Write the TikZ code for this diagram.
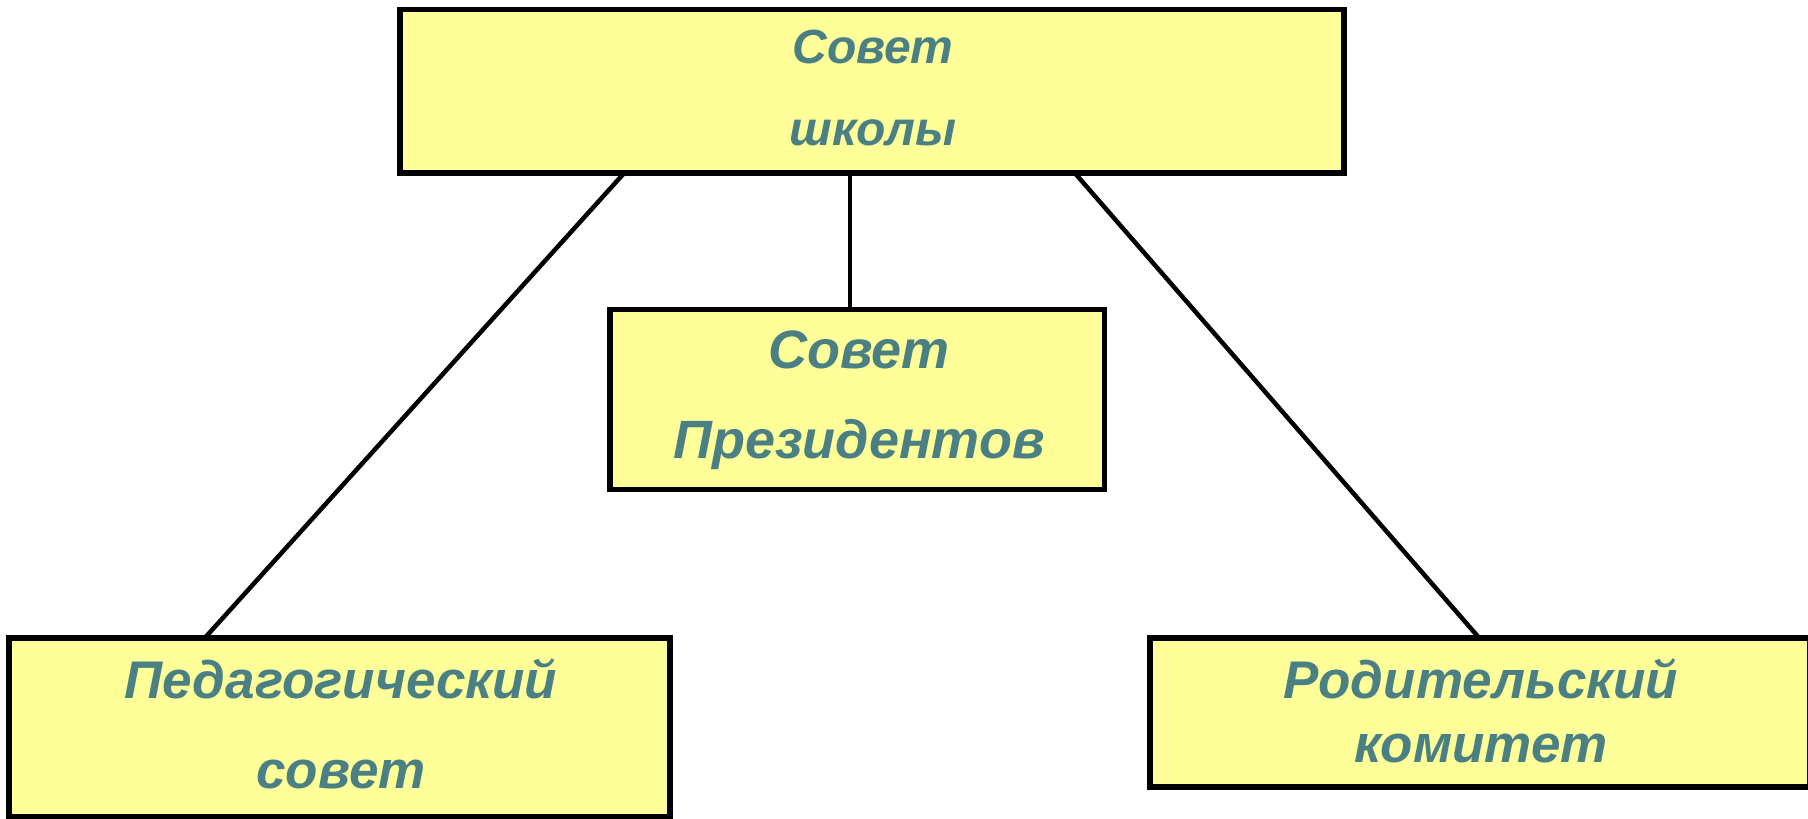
\documentclass[tikz,border=0pt]{standalone}
\usepackage{fontspec}
\setmainfont{Liberation Sans}
\definecolor{txtcol}{HTML}{4A8084}
\definecolor{boxfill}{HTML}{FFFF99}
\begin{document}
\begin{tikzpicture}[x=1pt,y=-1pt]
\tikzset{
  box/.style={draw=black, line width=5.5pt, fill=boxfill, inner sep=0pt, rectangle},
  lbl/.style={text=txtcol, inner sep=0pt, anchor=base},
  conn/.style={draw=black, line width=4.5pt}
}
\useasboundingbox (0,0) rectangle (1808,819);
\fill[white] (0,0) rectangle (1808,819);
% boxes
\node[box, minimum width=944pt, minimum height=163.5pt] (top) at (872,91.25) {};
\node[box, minimum width=494.5pt, minimum height=180pt] (mid) at (857.25,399.5) {};
\node[box, minimum width=661pt, minimum height=179pt] (left) at (339.5,727.5) {};
\node[box, minimum width=660pt, minimum height=149pt] (right) at (1480,712.5) {};
% connectors
\draw[conn] ([xshift=-248pt,yshift=2.5pt]top.south) -- ([xshift=-134.5pt,yshift=-2.5pt]left.north);
\draw[conn] ([xshift=-22pt,yshift=2.5pt]top.south) -- ([xshift=-7.25pt,yshift=-2.5pt]mid.north);
\draw[conn] ([xshift=203pt,yshift=2.5pt]top.south) -- ([xshift=-1pt,yshift=-2.5pt]right.north);
% labels
\node[lbl, font=\fontsize{48}{58}\selectfont\bfseries\itshape] (t1) at (873,63) {Совет};
\node[lbl, font=\fontsize{48}{58}\selectfont\bfseries\itshape] (t2) at (873,145) {школы};
\node[lbl, font=\fontsize{54}{64}\selectfont\bfseries\itshape] (m1) at (859,368) {Совет};
\node[lbl, font=\fontsize{54}{64}\selectfont\bfseries\itshape] (m2) at (859,458) {Президентов};
\node[lbl, font=\fontsize{53}{63}\selectfont\bfseries\itshape] (l1) at (341,698) {Педагогический};
\node[lbl, font=\fontsize{53}{63}\selectfont\bfseries\itshape] (l2) at (341,788) {совет};
\node[lbl, font=\fontsize{53}{63}\selectfont\bfseries\itshape] (r1) at (1481,698) {Родительский};
\node[lbl, font=\fontsize{53}{63}\selectfont\bfseries\itshape] (r2) at (1481,762) {комитет};
\end{tikzpicture}
\end{document}
